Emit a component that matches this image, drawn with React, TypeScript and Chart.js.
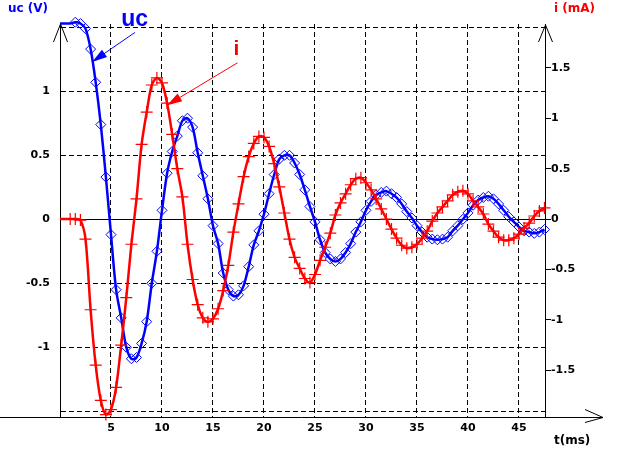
import { useEffect, useRef } from 'react';
import { Chart, registerables } from 'chart.js';

Chart.register(...registerables);

// time (ms)
const tValues = [
  0, 0.5, 1, 1.5, 2, 2.5, 3, 3.5, 4, 4.5, 5, 5.5, 6, 6.5, 7, 7.5, 8, 8.5, 9, 9.5,
  10, 10.5, 11, 11.5, 12, 12.5, 13, 13.5, 14, 14.5, 15, 15.5, 16, 16.5, 17, 17.5, 18, 18.5, 19, 19.5,
  20, 20.5, 21, 21.5, 22, 22.5, 23, 23.5, 24, 24.5, 25, 25.5, 26, 26.5, 27, 27.5, 28, 28.5, 29, 29.5,
  30, 30.5, 31, 31.5, 32, 32.5, 33, 33.5, 34, 34.5, 35, 35.5, 36, 36.5, 37, 37.5, 38, 38.5, 39, 39.5,
  40, 40.5, 41, 41.5, 42, 42.5, 43, 43.5, 44, 44.5, 45, 45.5, 46, 46.5, 47, 47.5,
];

// uc (V)
const ucValues = [
  1.53, 1.53, 1.53, 1.54, 1.53, 1.49, 1.33, 1.07, 0.74, 0.33, -0.12, -0.55, -0.77, -1.0, -1.09, -1.08, -0.97, -0.8, -0.5, -0.25,
  0.07, 0.36, 0.53, 0.65, 0.77, 0.79, 0.72, 0.52, 0.34, 0.16, -0.05, -0.19, -0.42, -0.55, -0.6, -0.59, -0.52, -0.37, -0.2, -0.09,
  0.04, 0.2, 0.35, 0.47, 0.5, 0.5, 0.44, 0.35, 0.23, 0.1, -0.02, -0.16, -0.26, -0.31, -0.33, -0.31, -0.26, -0.19, -0.1, -0.02,
  0.07, 0.14, 0.19, 0.21, 0.22, 0.2, 0.17, 0.12, 0.06, 0.01, -0.05, -0.1, -0.14, -0.155, -0.16, -0.155, -0.14, -0.09, -0.05, 0.0,
  0.05, 0.11, 0.15, 0.17, 0.18, 0.16, 0.12, 0.07, 0.02, -0.02, -0.06, -0.09, -0.1, -0.11, -0.1, -0.08,
];

// i (mA)
const iValues = [
  0, 0, 0, 0, -0.01, -0.2, -0.9, -1.45, -1.8, -1.94, -1.89, -1.67, -1.25, -0.78, -0.25, 0.2, 0.74, 1.06, 1.33, 1.4,
  1.35, 1.15, 0.84, 0.5, 0.22, -0.25, -0.6, -0.85, -0.98, -1.02, -0.99, -0.89, -0.71, -0.46, -0.13, 0.15, 0.42, 0.62, 0.75, 0.82,
  0.81, 0.72, 0.55, 0.32, 0.06, -0.2, -0.38, -0.49, -0.59, -0.63, -0.55, -0.41, -0.28, -0.14, 0.04, 0.16, 0.25, 0.34, 0.4, 0.41,
  0.36, 0.29, 0.2, 0.1, 0.0, -0.1, -0.19, -0.26, -0.29, -0.28, -0.25, -0.19, -0.12, -0.02, 0.06, 0.12, 0.18, 0.24, 0.27, 0.28,
  0.25, 0.18, 0.12, 0.05, -0.05, -0.12, -0.18, -0.21, -0.21, -0.19, -0.15, -0.09, -0.04, 0.03, 0.08, 0.11,
];

const tTicks = [5, 10, 15, 20, 25, 30, 35, 40, 45];
const ucTicks = [-1.5, -1, -0.5, 0, 0.5, 1, 1.5];
const ucTickLabels = ['', '-1', '-0.5', '0', '0.5', '1', ''];
const iTicks = [-1.5, -1, -0.5, 0, 0.5, 1, 1.5];
const iTickLabels = ['-1.5', '-1', '-0.5', '0', '0.5', '1', '1.5'];

const BLUE = '#0000ff';
const RED = '#ff0000';
const TICK_FONT = { family: "'DejaVu Sans', sans-serif", size: 11, weight: 'bold' as const };

function arrowHead(ctx: CanvasRenderingContext2D, tipX: number, tipY: number, fromX: number, fromY: number, len: number, half: number) {
  const ang = Math.atan2(tipY - fromY, tipX - fromX);
  const bx = tipX - len * Math.cos(ang);
  const by = tipY - len * Math.sin(ang);
  const nx = -Math.sin(ang) * half;
  const ny = Math.cos(ang) * half;
  ctx.beginPath();
  ctx.moveTo(tipX, tipY);
  ctx.lineTo(bx + nx, by + ny);
  ctx.lineTo(bx - nx, by - ny);
  ctx.closePath();
  ctx.fill();
}

const decorPlugin = {
  id: 'decor',
  afterDraw(chart: any) {
    const ctx: CanvasRenderingContext2D = chart.ctx;
    const xs = chart.scales.x;
    const ys = chart.scales.y;
    const yr = chart.scales.y1;
    const { left, right, top, bottom } = chart.chartArea;
    ctx.save();
    ctx.strokeStyle = '#000';
    ctx.lineWidth = 1;
    // x axis line with open arrow
    const xb = Math.round(bottom) + 0.5;
    const tipX = right + 58;
    ctx.beginPath();
    ctx.moveTo(0, xb);
    ctx.lineTo(tipX, xb);
    ctx.stroke();
    ctx.beginPath();
    ctx.moveTo(tipX - 18, xb - 8);
    ctx.lineTo(tipX, xb);
    ctx.lineTo(tipX - 18, xb + 5);
    ctx.stroke();
    // left axis arrow
    const lx = Math.round(left) + 0.5;
    ctx.beginPath();
    ctx.moveTo(lx - 7, top + 18);
    ctx.lineTo(lx, top);
    ctx.lineTo(lx + 7, top + 18);
    ctx.stroke();
    // right axis arrow
    const rx = Math.round(right) + 0.5;
    ctx.beginPath();
    ctx.moveTo(rx - 7, top + 18);
    ctx.lineTo(rx, top + 1);
    ctx.lineTo(rx + 7, top + 18);
    ctx.stroke();

    // axis titles
    ctx.font = "bold 12px 'DejaVu Sans', sans-serif";
    ctx.textBaseline = 'middle';
    ctx.textAlign = 'left';
    ctx.fillStyle = BLUE;
    ctx.fillText('uc (V)', 8, 9);
    ctx.fillStyle = RED;
    ctx.fillText('i (mA)', right + 9, 9);
    ctx.fillStyle = '#000';
    ctx.fillText('t(ms)', right + 9, 441);

    // annotation: uc
    ctx.fillStyle = BLUE;
    ctx.strokeStyle = BLUE;
    ctx.font = "bold 23px 'Liberation Sans', Arial, sans-serif";
    ctx.textBaseline = 'alphabetic';
    ctx.fillText('uc', xs.getPixelForValue(6.0), ys.getPixelForValue(1.51));
    const bTipX = xs.getPixelForValue(3.15);
    const bTipY = ys.getPixelForValue(1.23);
    const bTailX = xs.getPixelForValue(7.35);
    const bTailY = ys.getPixelForValue(1.46);
    ctx.lineWidth = 1;
    ctx.beginPath();
    ctx.moveTo(bTailX, bTailY);
    ctx.lineTo(bTipX, bTipY);
    ctx.stroke();
    arrowHead(ctx, bTipX, bTipY, bTailX, bTailY, 15, 4.5);

    // annotation: i
    ctx.fillStyle = RED;
    ctx.strokeStyle = RED;
    ctx.font = "bold 21px 'Liberation Sans', Arial, sans-serif";
    ctx.textAlign = 'center';
    ctx.fillText('i', xs.getPixelForValue(17.3), yr.getPixelForValue(1.63));
    const rTipX = xs.getPixelForValue(10.5);
    const rTipY = yr.getPixelForValue(1.13);
    const rTailX = xs.getPixelForValue(17.4);
    const rTailY = yr.getPixelForValue(1.55);
    ctx.beginPath();
    ctx.moveTo(rTailX, rTailY);
    ctx.lineTo(rTipX, rTipY);
    ctx.stroke();
    arrowHead(ctx, rTipX, rTipY, rTailX, rTailY, 15, 4.5);
    ctx.restore();
  },
};

export default function App() {
  const canvasRef = useRef<HTMLCanvasElement | null>(null);

  useEffect(() => {
    const canvas = canvasRef.current;
    if (!canvas) return;
    const chart = new Chart(canvas, {
      type: 'line',
      data: {
        datasets: [
          {
            label: 'i',
            data: tValues.map((t, k) => ({ x: t, y: iValues[k] })),
            yAxisID: 'y1',
            borderColor: RED,
            borderWidth: 2.5,
            tension: 0.3,
            clip: 8,
            pointStyle: 'cross',
            pointRadius: (c: any) => (tValues[c.dataIndex] < 1 ? 0 : 6),
            pointBorderColor: RED,
            pointBorderWidth: 1.2,
            pointBackgroundColor: RED,
            order: 0,
          },
          {
            label: 'uc',
            data: tValues.map((t, k) => ({ x: t, y: ucValues[k] })),
            yAxisID: 'y',
            borderColor: BLUE,
            borderWidth: 2.5,
            tension: 0.3,
            clip: 8,
            pointStyle: 'rectRot',
            pointRadius: (c: any) => (tValues[c.dataIndex] < 1.5 ? 0 : 5),
            pointBorderColor: BLUE,
            pointBorderWidth: 1,
            pointBackgroundColor: 'rgba(0,0,0,0)',
            order: 1,
          },
        ],
      },
      options: {
        responsive: false,
        animation: false,
        devicePixelRatio: 1,
        layout: { padding: { top: 24, left: 0, right: 0, bottom: 0 } },
        plugins: { legend: { display: false }, tooltip: { enabled: false } },
        scales: {
          x: {
            type: 'linear',
            min: 0,
            max: 47.55,
            afterBuildTicks: (s: any) => {
              s.ticks = tTicks.map((v) => ({ value: v }));
            },
            afterFit: (s: any) => {
              s.height = 43;
            },
            ticks: {
              autoSkip: false,
              maxRotation: 0,
              padding: 5,
              color: '#000',
              font: TICK_FONT,
              callback: (v: any) => String(v),
            },
            grid: { color: '#000', lineWidth: 1, drawTicks: false },
            border: { display: false, dash: [5, 3] },
          },
          y: {
            type: 'linear',
            position: 'left',
            min: -1.545,
            max: 1.526,
            afterBuildTicks: (s: any) => {
              s.ticks = ucTicks.map((v) => ({ value: v }));
            },
            afterFit: (s: any) => {
              s.width = 60;
            },
            ticks: {
              padding: 10,
              color: '#000',
              font: TICK_FONT,
              callback: (_v: any, idx: number) => ucTickLabels[idx],
            },
            grid: { color: '#000', lineWidth: 1, drawTicks: false },
            border: {
              display: true,
              color: '#000',
              width: 1,
              dash: (c: any) => (c.tick && c.tick.value === 0 ? [] : [5, 3]),
            },
          },
          y1: {
            type: 'linear',
            position: 'right',
            min: -1.964,
            max: 1.935,
            afterBuildTicks: (s: any) => {
              s.ticks = iTicks.map((v) => ({ value: v }));
            },
            afterFit: (s: any) => {
              s.width = 87;
            },
            ticks: {
              padding: 0,
              color: '#000',
              font: TICK_FONT,
              callback: (_v: any, idx: number) => iTickLabels[idx],
            },
            grid: {
              drawOnChartArea: false,
              drawTicks: true,
              tickLength: 6,
              tickColor: '#000',
              tickWidth: 1,
            },
            border: { display: true, color: '#000', width: 1 },
          },
        },
      } as any,
      plugins: [decorPlugin],
    });
    return () => chart.destroy();
  }, []);

  return (
    <div style={{ position: 'absolute', left: 0, top: 0, width: 632, height: 460, background: '#fff' }}>
      <canvas ref={canvasRef} width={632} height={460} style={{ display: 'block' }} />
    </div>
  );
}
